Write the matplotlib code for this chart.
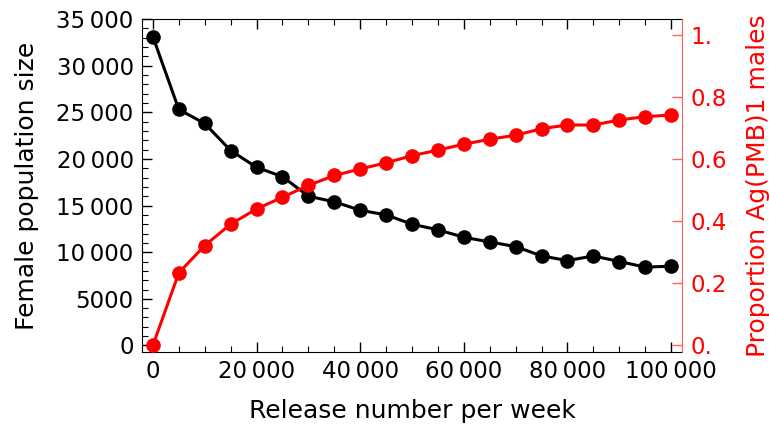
import matplotlib
matplotlib.use('Agg')
import matplotlib.pyplot as plt
from matplotlib.ticker import FixedLocator, MultipleLocator, FuncFormatter

# data
release = [0, 5000, 10000, 15000, 20000, 25000, 30000, 35000, 40000, 45000, 50000,
           55000, 60000, 65000, 70000, 75000, 80000, 85000, 90000, 95000, 100000]
female_pop = [33100, 25300, 23800, 20900, 19100, 18100, 16000, 15400, 14500, 14000, 13000,
              12400, 11600, 11100, 10600, 9600, 9100, 9600, 9000, 8400, 8500]
prop_males = [0.0, 0.234, 0.322, 0.391, 0.440, 0.478, 0.516, 0.548, 0.569, 0.589, 0.612,
              0.630, 0.649, 0.665, 0.678, 0.699, 0.711, 0.711, 0.727, 0.738, 0.743]

right_ticks = [0.0, 0.2, 0.4, 0.6, 0.8, 1.0]
right_labels = ['0.', '0.2', '0.4', '0.6', '0.8', '1.']

RED = '#ff0000'
SPINE_RED = '#ff6060'
TICK_FS = 16.5
LABEL_FS = 18

plt.rcParams['font.family'] = ['DejaVu Sans']


def thin_fmt(v, pos):
    v = int(round(v))
    if abs(v) < 10000:
        return str(v)
    return f"{v:,}".replace(',', '\u2009')


fig = plt.figure(figsize=(7.69, 4.30), dpi=100)
ax = fig.add_axes([0.1847, 0.1814, 0.7022, 0.7744])

ax.plot(release, female_pop, color='black', lw=2.2, marker='o', ms=9.5, zorder=3)
ax.set_xlim(-2100, 102100)
ax.set_ylim(-700, 35000)

ax.xaxis.set_major_locator(MultipleLocator(20000))
ax.xaxis.set_minor_locator(MultipleLocator(5000))
ax.yaxis.set_major_locator(MultipleLocator(5000))
ax.yaxis.set_minor_locator(MultipleLocator(1000))
ax.xaxis.set_major_formatter(FuncFormatter(thin_fmt))
ax.yaxis.set_major_formatter(FuncFormatter(thin_fmt))

ax.tick_params(which='both', direction='in', top=True, labelsize=TICK_FS, pad=6)
ax.tick_params(which='major', length=7, width=1)
ax.tick_params(which='minor', length=4, width=0.8)
ax.tick_params(axis='y', which='both', right=False)
ax.spines['right'].set_visible(False)

ax.set_xlabel('Release number per week', fontsize=LABEL_FS, labelpad=11)
ax.set_ylabel('Female population size', fontsize=LABEL_FS, labelpad=12.5)

ax2 = ax.twinx()
ax2.plot(release, prop_males, color=RED, lw=2.2, marker='o', ms=9.5, zorder=3)
ax2.set_ylim(-0.0216, 1.053)
ax2.yaxis.set_major_locator(FixedLocator(right_ticks))
ax2.set_yticklabels(right_labels)
ax2.tick_params(axis='y', direction='in', length=7, width=1, colors=SPINE_RED,
                labelcolor=RED, labelsize=TICK_FS, pad=6)
for side in ['left', 'top', 'bottom']:
    ax2.spines[side].set_visible(False)
ax2.spines['right'].set_color(SPINE_RED)
ax2.set_ylabel('Proportion Ag(PMB)1 males', color=RED, fontsize=LABEL_FS, labelpad=13.5)

plt.savefig('out.png', dpi=100)
plt.close()
